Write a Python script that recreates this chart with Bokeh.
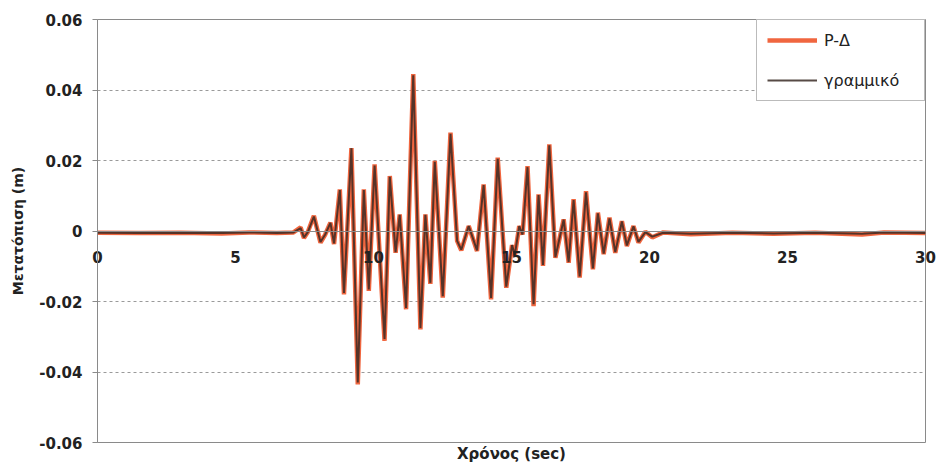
from bokeh.plotting import figure
from bokeh.models import (Range1d, FixedTicker, Legend, LegendItem, Title,
                          ColumnDataSource, LinearAxis)
from bokeh.embed import file_html
from bokeh.resources import INLINE

# Time history of displacement: turning points of the response (sec, m)
time_sec = [0.0, 1.5, 3.0, 4.5, 5.5, 6.5, 7.1, 7.36, 7.48, 7.62, 7.84, 8.08, 8.25,
            8.44, 8.57, 8.78, 8.93, 9.20, 9.43, 9.65, 9.83, 10.04, 10.40, 10.59,
            10.80, 10.95, 11.18, 11.44, 11.70, 11.88, 12.06, 12.22, 12.51, 12.79,
            13.03, 13.18, 13.45, 13.75, 13.99, 14.26, 14.50, 14.81, 15.02, 15.12,
            15.28, 15.40, 15.58, 15.80, 15.98, 16.14, 16.37, 16.59, 16.89, 17.07,
            17.25, 17.47, 17.70, 17.95, 18.13, 18.34, 18.55, 18.76, 19.00, 19.18,
            19.42, 19.60, 19.85, 20.1, 20.5, 21.5, 23.0, 24.5, 26.0, 27.7, 28.5, 30.0]

disp_pdelta = [-0.0005, -0.0006, -0.0005, -0.0007, -0.0004, -0.0006, -0.0004, 0.0010,
               -0.0020, -0.0003, 0.0043, -0.0033, -0.0010, 0.0024, -0.0037, 0.0118,
               -0.0180, 0.0235, -0.0435, 0.0118, -0.0170, 0.0189, -0.0312, 0.0156,
               -0.0062, 0.0047, -0.0222, 0.0445, -0.0279, 0.0047, -0.0150, 0.0199,
               -0.0189, 0.0279, -0.0028, -0.0055, 0.0014, -0.0057, 0.0132, -0.0194,
               0.0208, -0.0161, -0.0040, -0.0070, 0.0014, -0.0010, 0.0184, -0.0213,
               0.0104, -0.0099, 0.0246, -0.0076, 0.0033, -0.0090, 0.0090, -0.0132,
               0.0113, -0.0109, 0.0052, -0.0066, 0.0038, -0.0062, 0.0028, -0.0043,
               0.0014, -0.0033, -0.0002, -0.0018, -0.0004, -0.0009, -0.0005, -0.0008,
               -0.0005, -0.0010, -0.0004, -0.0006]

disp_linear = [-0.0005, -0.0006, -0.0005, -0.0006, -0.0004, -0.0006, -0.0004, 0.0008,
               -0.0018, -0.0003, 0.0041, -0.0031, -0.0010, 0.0023, -0.0035, 0.0116,
               -0.0176, 0.0235, -0.0430, 0.0116, -0.0166, 0.0186, -0.0306, 0.0154,
               -0.0060, 0.0046, -0.0218, 0.0442, -0.0275, 0.0046, -0.0147, 0.0196,
               -0.0185, 0.0276, -0.0028, -0.0053, 0.0014, -0.0055, 0.0130, -0.0190,
               0.0205, -0.0158, -0.0040, -0.0068, 0.0014, -0.0010, 0.0181, -0.0208,
               0.0102, -0.0096, 0.0243, -0.0074, 0.0032, -0.0088, 0.0088, -0.0129,
               0.0110, -0.0106, 0.0050, -0.0064, 0.0036, -0.0060, 0.0027, -0.0041,
               0.0013, -0.0031, -0.0003, -0.0016, -0.0005, -0.0008, -0.0005, -0.0007,
               -0.0005, -0.0008, -0.0004, -0.0006]

series_labels = ["P-Δ", "γραμμικό"]

x_ticks = [0, 5, 10, 15, 20, 25, 30]
x_tick_labels = ["0", "5", "10", "15", "20", "25", "30"]
y_ticks = [-0.06, -0.04, -0.02, 0.0, 0.02, 0.04, 0.06]
y_tick_labels = ["-0.06", "-0.04", "-0.02", "0", "0.02", "0.04", "0.06"]
grid_levels = [-0.04, -0.02, 0.02, 0.04]

FONT = "DejaVu Sans"
TEXT = "#222222"

src = ColumnDataSource(dict(t=time_sec, pd=disp_pdelta, lin=disp_linear))

p = figure(width=940, height=463,
           x_range=Range1d(0, 30), y_range=Range1d(-0.06, 0.06),
           output_backend="svg", toolbar_location=None,
           min_border_left=97, min_border_right=15,
           min_border_top=19, min_border_bottom=21)
p.background_fill_color = "white"
p.border_fill_color = "white"
p.outline_line_color = "#8a8a8a"
p.outline_line_width = 1

# grid: dashed horizontal lines only
p.xgrid.visible = False
p.ygrid.ticker = FixedTicker(ticks=grid_levels)
p.ygrid.grid_line_color = "#9a9a9a"
p.ygrid.grid_line_dash = "3 3"
p.ygrid.grid_line_width = 1

# the two response curves
r_pd = p.line("t", "pd", source=src, line_color="#F0663F", line_width=4.5)
r_lin = p.line("t", "lin", source=src, line_color="#3a2a24", line_width=2, line_alpha=0.85)

# axis line along zero
xa = p.xaxis[0]
xa.fixed_location = 0
xa.ticker = FixedTicker(ticks=x_ticks)
xa.major_tick_in = 0
xa.major_tick_out = 0
xa.minor_tick_line_color = None
xa.axis_line_color = "#8a8a8a"
xa.major_label_text_alpha = 0

# time numbers: an unclipped top axis whose labels are pulled down under the zero line
xnum = LinearAxis(ticker=FixedTicker(ticks=x_ticks))
xnum.major_label_overrides = {t: s for t, s in zip(x_ticks, x_tick_labels)}
xnum.axis_line_color = None
xnum.major_tick_line_color = None
xnum.minor_tick_line_color = None
xnum.major_tick_in = 0
xnum.major_tick_out = 0
xnum.major_label_standoff = -243
xnum.major_label_text_font = FONT
xnum.major_label_text_font_style = "bold"
xnum.major_label_text_font_size = "15px"
xnum.major_label_text_color = TEXT
p.add_layout(xnum, "above")

ya = p.yaxis[0]
ya.ticker = FixedTicker(ticks=y_ticks)
ya.major_label_overrides = {t: s for t, s in zip(y_ticks, y_tick_labels)}
ya.major_tick_in = 0
ya.major_tick_out = 5
ya.minor_tick_line_color = None
ya.axis_line_color = "#8a8a8a"
ya.major_tick_line_color = "#8a8a8a"
ya.major_label_standoff = 10
ya.major_label_text_font = FONT
ya.major_label_text_font_style = "bold"
ya.major_label_text_font_size = "15px"
ya.major_label_text_color = TEXT
ya.axis_label = "Μετατόπιση (m)"
ya.axis_label_standoff = 10
ya.axis_label_text_font = FONT
ya.axis_label_text_font_style = "bold"
ya.axis_label_text_font_size = "14px"
ya.axis_label_text_color = TEXT

# x axis title under the frame
p.add_layout(Title(text="Χρόνος (sec)", align="center", text_font=FONT,
                   text_font_style="bold", text_font_size="15px",
                   text_color=TEXT, standoff=0, offset=0), "below")

legend = Legend(items=[LegendItem(label=series_labels[0], renderers=[r_pd]),
                       LegendItem(label=series_labels[1], renderers=[r_lin])],
                location="top_right")
legend.margin = 0
legend.padding = 10
legend.spacing = 20
legend.glyph_width = 50
legend.glyph_height = 20
legend.label_height = 20
legend.label_width = 90
legend.label_standoff = 7
legend.label_text_font = FONT
legend.label_text_font_size = "16px"
legend.label_text_color = TEXT
legend.border_line_color = "#777777"
legend.border_line_width = 1
legend.background_fill_color = "white"
legend.background_fill_alpha = 1
p.add_layout(legend)

open("out.html", "w").write(file_html(p, INLINE))
